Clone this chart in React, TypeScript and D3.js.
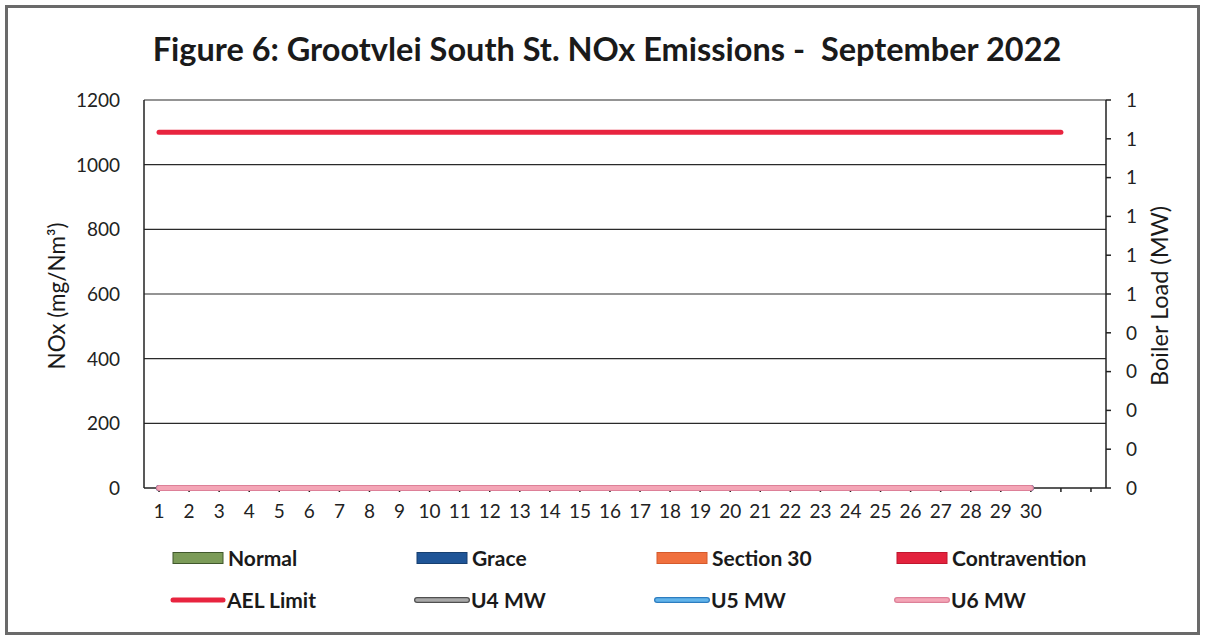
import React from "react";
import * as d3 from "d3";

const categories = ["1","2","3","4","5","6","7","8","9","10","11","12","13","14","15","16","17","18","19","20","21","22","23","24","25","26","27","28","29","30","",""];

const normal = [0,0,0,0,0,0,0,0,0,0,0,0,0,0,0,0,0,0,0,0,0,0,0,0,0,0,0,0,0,0];
const grace = [0,0,0,0,0,0,0,0,0,0,0,0,0,0,0,0,0,0,0,0,0,0,0,0,0,0,0,0,0,0];
const section30 = [0,0,0,0,0,0,0,0,0,0,0,0,0,0,0,0,0,0,0,0,0,0,0,0,0,0,0,0,0,0];
const contravention = [0,0,0,0,0,0,0,0,0,0,0,0,0,0,0,0,0,0,0,0,0,0,0,0,0,0,0,0,0,0];

const aelLimit = [1100,1100,1100,1100,1100,1100,1100,1100,1100,1100,1100,1100,1100,1100,1100,1100,1100,1100,1100,1100,1100,1100,1100,1100,1100,1100,1100,1100,1100,1100,1100];
const u4MW = [0,0,0,0,0,0,0,0,0,0,0,0,0,0,0,0,0,0,0,0,0,0,0,0,0,0,0,0,0,0];
const u5MW = [0,0,0,0,0,0,0,0,0,0,0,0,0,0,0,0,0,0,0,0,0,0,0,0,0,0,0,0,0,0];
const u6MW = [0,0,0,0,0,0,0,0,0,0,0,0,0,0,0,0,0,0,0,0,0,0,0,0,0,0,0,0,0,0];

const leftTicks = [0, 200, 400, 600, 800, 1000, 1200];
const rightTicks = [0, 0.1, 0.2, 0.3, 0.4, 0.5, 0.6, 0.7, 0.8, 0.9, 1.0];
const rightTickLabels = ["0", "0", "0", "0", "0", "1", "1", "1", "1", "1", "1"];

const TITLE = "Figure 6: Grootvlei South St. NOx Emissions -  September 2022";

const barSeries = [
  { name: "Normal", values: normal, fill: "#7b9b58", stroke: "#40582c" },
  { name: "Grace", values: grace, fill: "#1f5597", stroke: "#163f70" },
  { name: "Section 30", values: section30, fill: "#f0703e", stroke: "#d55a2c" },
  { name: "Contravention", values: contravention, fill: "#e3223d", stroke: "#c0162e" },
];

const lineSeries = [
  { name: "AEL Limit", values: aelLimit, axis: "left", color: "#e8243f", border: null },
  { name: "U4 MW", values: u4MW, axis: "right", color: "#a8a8a8", border: "#505050" },
  { name: "U5 MW", values: u5MW, axis: "right", color: "#62b4ea", border: "#2d7dc0" },
  { name: "U6 MW", values: u6MW, axis: "right", color: "#f4a5b6", border: "#dd8098" },
];

const W = 1205, H = 639;
const M = { left: 144, right: 1106, top: 100, bottom: 488 };
const FONT = "Lato, 'Open Sans', sans-serif";

export default function App() {
  const x = d3.scaleBand<number>().domain(d3.range(categories.length)).range([M.left, M.right]);
  const cx = (i: number) => (x(i) as number) + x.bandwidth() / 2;
  const yL = d3.scaleLinear().domain([0, 1200]).range([M.bottom, M.top]);
  const yR = d3.scaleLinear().domain([0, 1]).range([M.bottom, M.top]);

  const bw = x.bandwidth() * 0.6;
  const stackTotals = categories.map(() => 0);

  const lineGen = (scale: d3.ScaleLinear<number, number>) =>
    d3.line<number>().x((_, i) => cx(i)).y((v) => scale(v));

  const legendCols = [173, 417, 657, 897];
  const row1 = 558, row2 = 600;

  return (
    <svg width={W} height={H} style={{ position: "absolute", left: 0, top: 0, background: "#fff" }} fontFamily={FONT}>
      <rect x={0} y={0} width={W} height={H} fill="#fff" />
      <rect x={6.5} y={6.5} width={W - 13} height={H - 12} fill="none" stroke="#6a6a6a" strokeWidth={3} />

      <text x={607} y={61} textAnchor="middle" fontSize={32.5} fontWeight={700} fill="#1a1a1a" style={{ whiteSpace: "pre" }}>{TITLE}</text>

      {/* gridlines */}
      {leftTicks.filter((t) => t > 0).map((t) => (
        <line key={"g" + t} x1={M.left} x2={M.right} y1={yL(t)} y2={yL(t)} stroke="#2a2a2a" strokeWidth={1.2} />
      ))}

      {/* left axis labels */}
      {leftTicks.map((t) => (
        <text key={"l" + t} x={120} y={yL(t)} dy="0.36em" textAnchor="end" fontSize={19} fill="#222">{t}</text>
      ))}

      {/* right axis */}
      <line x1={M.right} x2={M.right} y1={M.top} y2={M.bottom} stroke="#222" strokeWidth={1.5} />
      {rightTicks.map((t, i) => (
        <g key={"r" + t}>
          <line x1={M.right} x2={M.right + 5} y1={yR(t)} y2={yR(t)} stroke="#222" strokeWidth={1.5} />
          <text x={1126} y={yR(t)} dy="0.36em" fontSize={19} fill="#222">{rightTickLabels[i]}</text>
        </g>
      ))}

      {/* bars */}
      {barSeries.map((s) => (
        <g key={s.name}>
          {s.values.map((v, i) => {
            const y0 = stackTotals[i];
            stackTotals[i] += v;
            const top = yL(y0 + v);
            const h = yL(y0) - top;
            return <rect key={i} x={cx(i) - bw / 2} y={top} width={bw} height={h} fill={s.fill} stroke={h > 0 ? s.stroke : "none"} />;
          })}
        </g>
      ))}

      {/* left axis & bottom axis */}
      <line x1={M.left} x2={M.left} y1={M.top} y2={M.bottom} stroke="#222" strokeWidth={1.5} />
      <line x1={M.left} x2={M.right} y1={M.bottom} y2={M.bottom} stroke="#222" strokeWidth={1.5} />
      {categories.map((c, i) => (
        <g key={"x" + i}>
          <line x1={cx(i)} x2={cx(i)} y1={M.bottom} y2={M.bottom + 4} stroke="#222" strokeWidth={1.5} />
          <text x={cx(i)} y={518} textAnchor="middle" fontSize={19} fill="#222">{c}</text>
        </g>
      ))}

      {/* lines */}
      {lineSeries.map((s) => {
        const scale = s.axis === "left" ? yL : yR;
        const d = lineGen(scale)(s.values) || "";
        return (
          <g key={s.name}>
            {s.border && <path d={d} fill="none" stroke={s.border} strokeWidth={6} strokeLinecap="round" />}
            <path d={d} fill="none" stroke={s.color} strokeWidth={s.border ? 4 : 5} strokeLinecap="round" />
          </g>
        );
      })}

      {/* axis titles */}
      <text transform={`translate(65,296) rotate(-90)`} textAnchor="middle" fontSize={22.5} fill="#1a1a1a">NOx (mg/Nm³)</text>
      <text transform={`translate(1168,296) rotate(-90)`} textAnchor="middle" fontSize={23.5} fill="#1a1a1a">Boiler Load (MW)</text>

      {/* legend */}
      {barSeries.map((s, i) => (
        <g key={"lb" + s.name}>
          <rect x={legendCols[i]} y={row1 - 5.5} width={50} height={11} fill={s.fill} stroke={s.stroke} strokeWidth={1} />
          <text x={legendCols[i] + 55} y={row1} dy="0.36em" fontSize={21} fontWeight={700} fill="#1a1a1a">{s.name}</text>
        </g>
      ))}
      {lineSeries.map((s, i) => (
        <g key={"ll" + s.name}>
          {s.border && <line x1={legendCols[i]} x2={legendCols[i] + 50} y1={row2} y2={row2} stroke={s.border} strokeWidth={6} strokeLinecap="round" />}
          <line x1={legendCols[i]} x2={legendCols[i] + 50} y1={row2} y2={row2} stroke={s.color} strokeWidth={s.border ? 3.5 : 5} strokeLinecap="round" />
          <text x={legendCols[i] + 54} y={row2} dy="0.36em" fontSize={21} fontWeight={700} fill="#1a1a1a">{s.name}</text>
        </g>
      ))}
    </svg>
  );
}
